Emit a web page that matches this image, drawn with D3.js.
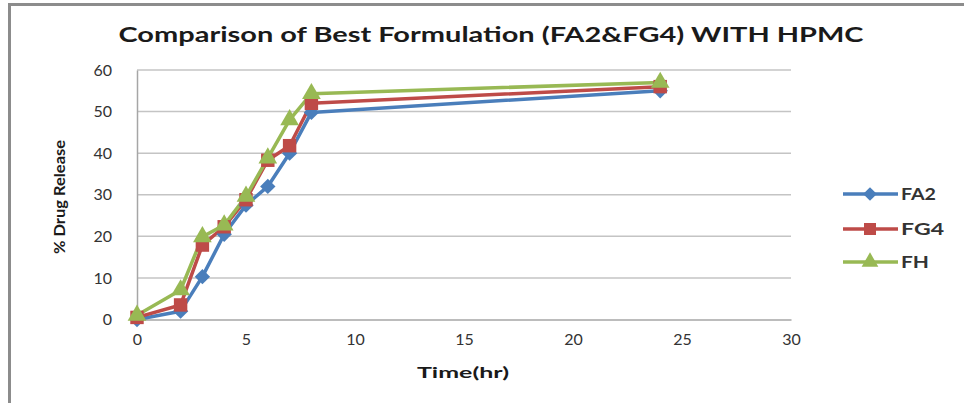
<!DOCTYPE html>
<html>
<head>
<meta charset="utf-8">
<script src="https://cdn.jsdelivr.net/npm/d3@7"></script>
<style>
  html, body { margin: 0; padding: 0; background: #fff; }
  svg { display: block; font-family: Lato, "Open Sans", "Liberation Sans", sans-serif; }
</style>
</head>
<body>
<svg id="chart" width="964" height="403"></svg>
<script>
// Sampling times (hours)
const times = [0, 2, 3, 4, 5, 6, 7, 8, 24];
// Cumulative % drug release per formulation
const fa2 = [0, 2, 10.3, 20.5, 27.5, 32, 40, 49.8, 55];
const fg4 = [0.5, 3.5, 17.9, 22.3, 28.8, 38.3, 41.8, 52, 56];
const fh  = [1, 7.1, 19.9, 22.7, 29.6, 38.8, 48, 54.3, 57];
const seriesNames = ["FA2", "FG4", "FH"];
const xTicks = [0, 5, 10, 15, 20, 25, 30];
const yTicks = [0, 10, 20, 30, 40, 50, 60];

const colors = { FA2: "#4A7EBB", FG4: "#BE4B48", FH: "#98B954" };
const symbols = { FA2: d3.symbolDiamond2, FG4: d3.symbolSquare2, FH: d3.symbolTriangle2 };
const symbolSizes = { FA2: 150, FG4: 230, FH: 250 };

const series = [
  { name: seriesNames[0], values: fa2 },
  { name: seriesNames[1], values: fg4 },
  { name: seriesNames[2], values: fh }
];

const svg = d3.select("#chart");

// outer frame
svg.append("path")
  .attr("d", "M9.5,406 L9.5,4.5 L970,4.5")
  .attr("fill", "none")
  .attr("stroke", "#8c8c8c")
  .attr("stroke-width", 3);

const plot = { left: 137, right: 791, top: 70, bottom: 319.5 };
const x = d3.scaleLinear().domain([0, 30]).range([plot.left, plot.right]);
const y = d3.scaleLinear().domain([0, 60]).range([plot.bottom, plot.top]);

// title
svg.append("text")
  .attr("x", 491).attr("y", 42)
  .attr("text-anchor", "middle")
  .attr("font-size", 21).attr("font-weight", "bold")
  .attr("fill", "#1a1a1a")
  .attr("textLength", 745).attr("lengthAdjust", "spacingAndGlyphs")
  .text("Comparison of Best Formulation (FA2&FG4) WITH HPMC");

// gridlines
svg.append("g").selectAll("line")
  .data(yTicks.filter(d => d > 0))
  .join("line")
  .attr("x1", plot.left).attr("x2", plot.right)
  .attr("y1", d => y(d)).attr("y2", d => y(d))
  .attr("stroke", "#c4c4c4").attr("stroke-width", 1.5);

// y axis
const yAxis = svg.append("g")
  .attr("transform", `translate(${plot.left},0)`)
  .call(d3.axisLeft(y).tickValues(yTicks).tickSize(0).tickPadding(25));
yAxis.select(".domain").attr("stroke", "#a6a6a6").attr("stroke-width", 1.5);
yAxis.selectAll("text").attr("font-size", 16).attr("fill", "#333")
  .attr("font-family", "Lato, sans-serif");

// x axis
const xAxis = svg.append("g")
  .attr("transform", `translate(0,${plot.bottom})`)
  .call(d3.axisBottom(x).tickValues(xTicks).tickSize(0).tickPadding(14));
xAxis.select(".domain").attr("stroke", "#a6a6a6").attr("stroke-width", 1.5);
xAxis.selectAll("text").attr("font-size", 16).attr("fill", "#333")
  .attr("font-family", "Lato, sans-serif");

// axis titles
svg.append("text")
  .attr("x", 463).attr("y", 378)
  .attr("text-anchor", "middle")
  .attr("font-size", 16).attr("font-weight", "bold").attr("fill", "#1a1a1a")
  .attr("textLength", 92).attr("lengthAdjust", "spacingAndGlyphs")
  .text("Time(hr)");

svg.append("text")
  .attr("transform", "translate(65,197) rotate(-90)")
  .attr("text-anchor", "middle")
  .attr("font-size", 15).attr("font-weight", "bold").attr("fill", "#1a1a1a")
  .attr("textLength", 114).attr("lengthAdjust", "spacingAndGlyphs")
  .text("% Drug Release");

// lines and markers
const line = d3.line().x((d, i) => x(times[i])).y(d => y(d));

const g = svg.append("g");
series.forEach(s => {
  g.append("path")
    .datum(s.values)
    .attr("d", line)
    .attr("fill", "none")
    .attr("stroke", colors[s.name])
    .attr("stroke-width", 3.5)
    .attr("stroke-linejoin", "round");
});
series.forEach(s => {
  g.append("g").selectAll("path")
    .data(s.values)
    .join("path")
    .attr("transform", (d, i) => `translate(${x(times[i])},${y(d)})`)
    .attr("d", d3.symbol().type(symbols[s.name]).size(symbolSizes[s.name]))
    .attr("fill", colors[s.name]);
});

// legend
const legend = svg.append("g");
const legendY = [194, 229, 262];
const legendLen = [35, 43, 28];
series.forEach((s, i) => {
  const row = legend.append("g").attr("transform", `translate(0,${legendY[i]})`);
  row.append("line")
    .attr("x1", 843).attr("x2", 898)
    .attr("stroke", colors[s.name]).attr("stroke-width", 3.5);
  row.append("path")
    .attr("transform", "translate(870,0)")
    .attr("d", d3.symbol().type(symbols[s.name]).size(symbolSizes[s.name] * 0.8))
    .attr("fill", colors[s.name]);
  row.append("text")
    .attr("x", 901).attr("y", 6)
    .attr("font-size", 17).attr("font-weight", "bold").attr("fill", "#333")
    .attr("textLength", legendLen[i]).attr("lengthAdjust", "spacingAndGlyphs")
    .text(s.name);
});
</script>
</body>
</html>
